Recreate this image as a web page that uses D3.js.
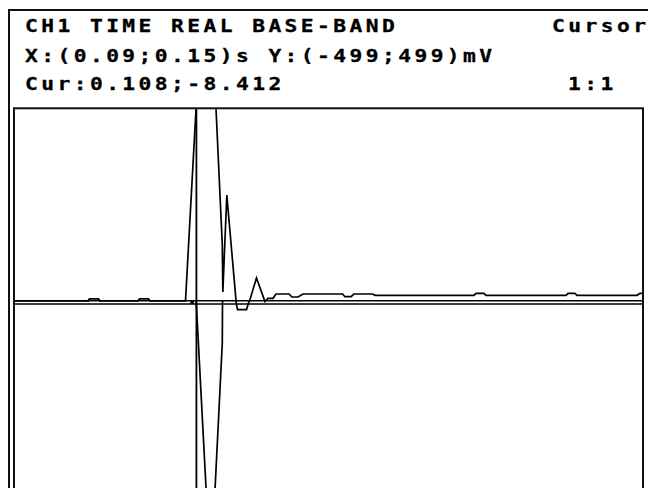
<!DOCTYPE html>
<html><head><meta charset="utf-8">
<script src="https://cdn.jsdelivr.net/npm/d3@7"></script>
<style>html,body{margin:0;padding:0;background:#fff;overflow:hidden}</style>
</head><body><svg id="c" width="648" height="488"></svg>
<script>
// ---- data ----
const headerLeft  = ["CH1 TIME REAL BASE-BAND", "X:(0.09;0.15)s Y:(-499;499)mV", "Cur:0.108;-8.412"];
const headerRight = ["Cursor", "", "1:1"];
const xDomain = [0.09, 0.15];      // s
const yDomain = [-499, 499];       // mV
// main trace (time s, value mV)
const traceT  = [0.09000, 0.09706, 0.09720, 0.09806, 0.09820, 0.10183, 0.10197, 0.10283, 0.10297, 0.10636,
                 0.10767, 0.10901, 0.10987, 0.10992, 0.11030, 0.11120, 0.11132, 0.11218, 0.11237, 0.11246,
                 0.11313, 0.11394, 0.11423, 0.11471, 0.11499, 0.11623, 0.11652, 0.11709, 0.11757, 0.12134,
                 0.12157, 0.12215, 0.12243, 0.12420, 0.12444, 0.13388, 0.13407, 0.13483, 0.13502, 0.14266,
                 0.14285, 0.14351, 0.14370, 0.14943, 0.14971, 0.15000];
const traceMV = [0, 0, 5.2, 5.2, 0, 0, 5.2, 5.2, 0, 0,
                 650, 650, 145, 23, 274, -6, -23, -23, -5, -1,
                 59, -2, 6.5, 6.5, 17.6, 17.6, 9.8, 9.8, 17.6, 17.6,
                 10.6, 10.6, 17.6, 17.6, 14.3, 14.3, 19.4, 19.4, 14.3, 14.3,
                 19.4, 19.4, 14.3, 14.3, 19.4, 19.4];
// negative lobe trace
const lobeT  = [0.10738, 0.10868, 0.10884, 0.10987, 0.10989];
const lobeMV = [-2, -672, -672, -109, 0];
// cursor
const cursorT  = 0.1074;
const cursorMV = -8.412;

// ---- drawing ----
const svg = d3.select("#c");
const x = d3.scaleLinear().domain(xDomain).range([14, 643]);
const y = d3.scaleLinear().domain(yDomain).range([493.3, 108.3]);

// outer frame
svg.append("rect").attr("x", 9).attr("y", 10).attr("width", 800).attr("height", 700)
  .attr("fill", "none").attr("stroke", "#111").attr("stroke-width", 2);

// header texts (wide bold monospace look)
const rowsY = [32, 62, 90];
const sx = 1.25;
const tf = g => g.attr("font-family", "'DejaVu Sans Mono', monospace").attr("font-weight", "bold")
  .attr("font-size", "17px").attr("letter-spacing", "2.75px").attr("fill", "#000")
  .attr("stroke", "#000").attr("stroke-width", 0.3);
svg.selectAll("text.l").data(headerLeft).join("text").attr("class", "l")
  .attr("transform", (d, i) => `translate(25,${rowsY[i]}) scale(${sx},1)`).text(d => d).call(tf);
svg.selectAll("text.r").data(headerRight).join("text").attr("class", "r")
  .attr("transform", (d, i) => `translate(${i === 2 ? 568 : 552},${rowsY[i]}) scale(${sx},1)`).text(d => d).call(tf);

// plot box
svg.append("rect").attr("x", x.range()[0]).attr("y", y.range()[1]).attr("width", x.range()[1] - x.range()[0]).attr("height", 600)
  .attr("fill", "none").attr("stroke", "#111").attr("stroke-width", 2);

svg.append("clipPath").attr("id", "clip").append("rect")
  .attr("x", x.range()[0] + 1).attr("y", y.range()[1] + 1)
  .attr("width", x.range()[1] - x.range()[0] - 2).attr("height", 600);

const plot = svg.append("g").attr("clip-path", "url(#clip)");

// zero line
plot.append("line").attr("x1", x.range()[0]).attr("x2", x.range()[1])
  .attr("y1", y(0)).attr("y2", y(0)).attr("stroke", "#000").attr("stroke-width", 1.5);
// cursor lines
plot.append("line").attr("x1", x.range()[0]).attr("x2", x.range()[1])
  .attr("y1", y(cursorMV)).attr("y2", y(cursorMV)).attr("stroke", "#000").attr("stroke-width", 1.5);
plot.append("line").attr("x1", x(cursorT)).attr("x2", x(cursorT))
  .attr("y1", y.range()[1]).attr("y2", 600).attr("stroke", "#000").attr("stroke-width", 1.8);
plot.append("rect").attr("x", x(cursorT) - 6).attr("y", y(0)).attr("width", 3.5).attr("height", y(cursorMV) - y(0))
  .attr("fill", "#000");

const line = d3.line().x(d => x(d[0])).y(d => y(d[1]));
plot.append("path").datum(d3.zip(traceT, traceMV)).attr("d", line)
  .attr("fill", "none").attr("stroke", "#000").attr("stroke-width", 1.7).attr("stroke-linejoin", "miter");
plot.append("path").datum(d3.zip(lobeT, lobeMV)).attr("d", line)
  .attr("fill", "none").attr("stroke", "#000").attr("stroke-width", 1.7);
</script>
</body></html>
